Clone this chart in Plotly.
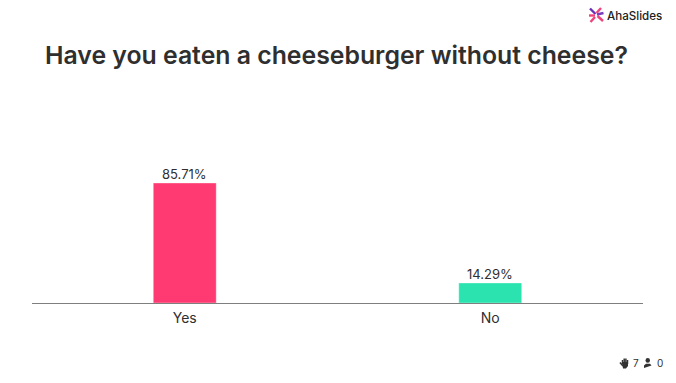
import plotly.graph_objects as go

categories = ["Yes", "No"]
values = [85.71, 14.29]
value_labels = ["85.71%", "14.29%"]
bar_colors = ["#FF3A72", "#2BE3AE"]
title_text = "Have you eaten a cheeseburger without cheese?"
brand_text = "AhaSlides"
responses = "7"
audience = "0"

W, H = 676, 383
L, R, T, B = 32, 643, 163, 303
DARK = "#2f2f2f"
FONT = "Inter"


def px(x):
    return (x - L) / (R - L)


def py(y):
    return (B - y) / (B - T)


fig = go.Figure(
    go.Bar(
        x=categories,
        y=values,
        marker=dict(color=bar_colors, line=dict(color="rgba(255,255,255,0.35)", width=1)),
        hoverinfo="skip",
    )
)

shapes = []


def seg(x0, y0, x1, y1, c, w=2.0):
    shapes.append(dict(type="line", xref="paper", yref="paper", x0=px(x0), y0=py(y0), x1=px(x1), y1=py(y1),
                       line=dict(color=c, width=w)))


# logo rays
for (x0, y0, x1, y1, c) in [
    (590, 8.5, 595.5, 14, "#6A2FB5"),
    (601, 8, 596.5, 13, "#F0427C"),
    (589, 15.5, 595, 15.5, "#F0427C"),
    (595, 17, 590.5, 22, "#F0427C"),
    (597.5, 16, 603, 21, "#F0427C"),
    (597, 14.5, 603.5, 13, "#7A3BBE"),
]:
    seg(x0, y0, x1, y1, c, 2.4)

# hand icon: palm, four fingers and thumb
shapes.append(dict(type="path", xref="paper", yref="paper", fillcolor="#333333", line=dict(width=0),
                   path="M %f %f L %f %f L %f %f L %f %f L %f %f Z" % (
                       px(622), py(362), px(628), py(362), px(628), py(366),
                       px(626), py(368.5), px(623), py(368.5))))
for fx, top in [(622.5, 360), (624.2, 358.5), (625.9, 358.5), (627.5, 360)]:
    seg(fx, top, fx, 364, "#333333", 1.5)
seg(620, 362.5, 623, 366, "#333333", 1.6)

# person icon
shapes.append(dict(type="circle", xref="paper", yref="paper", fillcolor="#333333", line=dict(width=0),
                   x0=px(645.5), y0=py(358), x1=px(650), y1=py(362.8)))
shapes.append(dict(type="path", xref="paper", yref="paper", fillcolor="#333333", line=dict(width=0),
                   path="M %f %f L %f %f L %f %f L %f %f L %f %f Z" % (
                       px(644), py(368), px(644), py(365.5), px(646), py(363.8), px(650), py(363.8), px(651.5), py(365.5))
                   + " L %f %f Z" % (px(651.5), py(368))))

annotations = [
    dict(text=title_text, xref="paper", yref="paper", x=px(336.5), y=py(54.5), xanchor="center", yanchor="middle",
         showarrow=False, font=dict(family=FONT, size=24.8, color=DARK, weight=600)),
    dict(text=brand_text, xref="paper", yref="paper", x=px(605), y=py(15.5), xanchor="left", yanchor="middle",
         showarrow=False, font=dict(family=FONT, size=11.6, color="#222222", weight=500)),
    dict(text=responses, xref="paper", yref="paper", x=px(630.5), y=py(363), xanchor="left", yanchor="middle",
         showarrow=False, font=dict(family=FONT, size=10, color=DARK)),
    dict(text=audience, xref="paper", yref="paper", x=px(654.5), y=py(363), xanchor="left", yanchor="middle",
         showarrow=False, font=dict(family=FONT, size=10, color=DARK)),
]
for cat, val, lab in zip(categories, values, value_labels):
    annotations.append(dict(text=lab, x=cat, y=val, xref="x", yref="y", yanchor="middle", yshift=9,
                            showarrow=False, font=dict(family=FONT, size=13, color=DARK)))

fig.update_layout(
    width=W,
    height=H,
    autosize=False,
    margin=dict(l=L, r=W - R, t=T, b=H - B, pad=0),
    paper_bgcolor="white",
    plot_bgcolor="white",
    bargap=0.794,
    showlegend=False,
    shapes=shapes,
    annotations=annotations,
    xaxis=dict(
        showgrid=False,
        zeroline=False,
        showline=True,
        linecolor="#7f7f7f",
        linewidth=1,
        ticks="",
        ticklabelstandoff=2,
        tickfont=dict(family=FONT, size=14, color=DARK),
    ),
    yaxis=dict(range=[0, 100], visible=False),
)

fig.write_html("out.html", config=dict(displayModeBar=False),
               post_script="document.body.style.margin='0';")
